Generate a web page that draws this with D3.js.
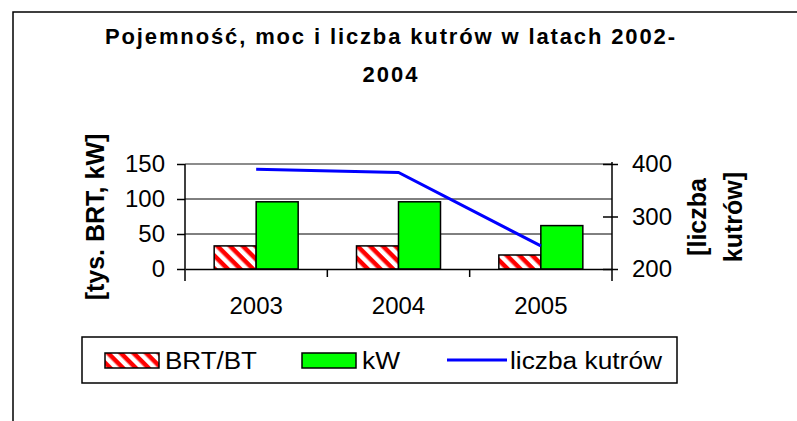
<!DOCTYPE html>
<html>
<head>
<meta charset="utf-8">
<script src="https://cdn.jsdelivr.net/npm/d3@7"></script>
<style>
  body { margin: 0; background: #fff; }
  svg { display: block; font-family: "Liberation Sans", Arial, sans-serif; }
</style>
</head>
<body>
<div id="plot"></div>
<script>
    const years = ["2003", "2004", "2005"];
    const brt = [33, 33, 20];
    const kw = [96, 96, 62];
    const boats = [390, 384, 244];
    const leftTicks = [0, 50, 100, 150];
    const rightTicks = [200, 300, 400];

    const svg = d3.select("div#plot")
      .append("svg")
        .attr("width", 797)
        .attr("height", 421);

    const defs = svg.append("defs");
    const hatch = defs.append("pattern")
      .attr("id", "hatch")
      .attr("patternUnits", "userSpaceOnUse")
      .attr("width", 9)
      .attr("height", 9)
      .attr("patternTransform", "rotate(45)");
    hatch.append("rect").attr("width", 9).attr("height", 9).attr("fill", "#fff");
    hatch.append("rect").attr("width", 9).attr("height", 4.5).attr("fill", "#ff0000");

    // chart area border (only top and left visible)
    svg.append("path")
      .attr("d", "M13,421V12H797")
      .attr("fill", "none")
      .attr("stroke", "#000")
      .attr("stroke-width", 1.5);

    const plotL = 185, plotR = 612, plotT = 164, plotB = 269;

    const xScale = d3.scaleBand()
      .domain(years)
      .range([plotL, plotR]);

    const inner = d3.scaleBand()
      .domain(["brt", "kw"])
      .range([0, 84]);

    const yScale = d3.scaleLinear()
      .domain([0, 150])
      .range([plotB, plotT]);

    const y2Scale = d3.scaleLinear()
      .domain([200, 400])
      .range([plotB, plotT]);

    // grid lines
    svg.selectAll(".grid")
      .data([50, 100])
      .enter()
      .append("line")
        .attr("x1", plotL)
        .attr("x2", plotR)
        .attr("y1", d => yScale(d))
        .attr("y2", d => yScale(d))
        .attr("stroke", "#000")
        .attr("stroke-width", 1);

    svg.append("line")
      .attr("x1", plotL).attr("x2", plotR)
      .attr("y1", plotT).attr("y2", plotT)
      .attr("stroke", "#8c8c8c")
      .attr("stroke-width", 2);

    // bars
    const barX = d => xScale(d) + xScale.bandwidth() / 2 - 42;

    svg.selectAll(".brt-bars")
      .data(brt)
      .enter()
      .append("rect")
        .attr("x", (d, i) => barX(years[i]) + inner("brt"))
        .attr("y", d => yScale(d))
        .attr("width", inner.bandwidth())
        .attr("height", d => plotB - yScale(d))
        .attr("fill", "url(#hatch)")
        .attr("stroke", "#000")
        .attr("stroke-width", 1.5);

    svg.selectAll(".kw-bars")
      .data(kw)
      .enter()
      .append("rect")
        .attr("x", (d, i) => barX(years[i]) + inner("kw"))
        .attr("y", d => yScale(d))
        .attr("width", inner.bandwidth())
        .attr("height", d => plotB - yScale(d))
        .attr("fill", "#00ff00")
        .attr("stroke", "#000")
        .attr("stroke-width", 1.5);

    // axes
    const xAxis = d3.axisBottom(xScale).tickSize(0).tickSizeOuter(0).tickPadding(28);
    const gx = svg.append("g")
      .attr("transform", `translate(0, ${plotB})`)
      .call(xAxis);
    gx.select(".domain").attr("stroke", "#000").attr("stroke-width", 1.5);
    gx.selectAll("text").style("font-size", "24px").attr("fill", "#000");

    svg.selectAll(".xtick")
      .data(years.slice(1))
      .enter()
      .append("line")
        .attr("x1", d => xScale(d))
        .attr("x2", d => xScale(d))
        .attr("y1", plotB)
        .attr("y2", plotB + 8)
        .attr("stroke", "#000")
        .attr("stroke-width", 1.5);

    const yAxis = d3.axisLeft(yScale).tickValues(leftTicks).tickSize(8).tickSizeOuter(0).tickPadding(12);
    const gy = svg.append("g")
      .attr("transform", `translate(${plotL}, 0)`)
      .call(yAxis);
    gy.select(".domain").attr("stroke", "#000").attr("stroke-width", 1.5).attr("d", `M0,${plotT}V${plotB + 12}`);
    gy.selectAll("line").attr("stroke-width", 1.5);
    gy.selectAll("text").style("font-size", "24px").attr("fill", "#000");

    const y2Axis = d3.axisRight(y2Scale).tickValues(rightTicks).tickSize(0).tickPadding(20);
    const gy2 = svg.append("g")
      .attr("transform", `translate(${plotR}, 0)`)
      .call(y2Axis);
    gy2.select(".domain").attr("stroke", "#000").attr("stroke-width", 1.5).attr("d", `M0,${plotT - 2}V${plotB + 12}`);
    gy2.selectAll(".tick").append("line")
      .attr("x1", -9).attr("x2", 6)
      .attr("stroke", "#000").attr("stroke-width", 1.5);
    gy2.selectAll("text").style("font-size", "24px").attr("fill", "#000");

    // line
    const line = d3.line()
      .x((d, i) => xScale(years[i]) + xScale.bandwidth() / 2)
      .y(d => y2Scale(d));

    svg.append("path")
      .datum(boats)
      .attr("d", line)
      .attr("fill", "none")
      .attr("stroke", "#0000ff")
      .attr("stroke-width", 3);

    // titles
    svg.append("text")
      .attr("x", 390)
      .attr("y", 44)
      .attr("text-anchor", "middle")
      .style("font-size", "22px")
      .style("font-weight", "bold")
      .attr("textLength", 570)
      .attr("lengthAdjust", "spacing")
      .text("Pojemność, moc i liczba kutrów w latach 2002-");

    svg.append("text")
      .attr("x", 390)
      .attr("y", 82)
      .attr("text-anchor", "middle")
      .style("font-size", "22px")
      .style("font-weight", "bold")
      .attr("textLength", 55)
      .attr("lengthAdjust", "spacing")
      .text("2004");

    svg.append("text")
      .attr("transform", "translate(104, 217) rotate(-90)")
      .attr("text-anchor", "middle")
      .style("font-size", "25px")
      .style("font-weight", "bold")
      .text("[tys. BRT, kW]");

    svg.append("text")
      .attr("transform", "translate(706, 217) rotate(-90)")
      .attr("text-anchor", "middle")
      .style("font-size", "25px")
      .style("font-weight", "bold")
      .text("[liczba");

    svg.append("text")
      .attr("transform", "translate(742, 217) rotate(-90)")
      .attr("text-anchor", "middle")
      .style("font-size", "25px")
      .style("font-weight", "bold")
      .text("kutrów]");

    // legend
    const key = svg.append("g");
    key.append("rect")
      .attr("x", 82).attr("y", 337)
      .attr("width", 595).attr("height", 46)
      .attr("fill", "#fff")
      .attr("stroke", "#000")
      .attr("stroke-width", 1.5);

    key.append("rect")
      .attr("x", 105).attr("y", 353)
      .attr("width", 54).attr("height", 15)
      .attr("fill", "url(#hatch)")
      .attr("stroke", "#000")
      .attr("stroke-width", 1.5);

    key.append("text")
      .attr("x", 165).attr("y", 369)
      .style("font-size", "23px")
      .attr("textLength", 92)
      .attr("lengthAdjust", "spacingAndGlyphs")
      .text("BRT/BT");

    key.append("rect")
      .attr("x", 302).attr("y", 353)
      .attr("width", 54).attr("height", 15)
      .attr("fill", "#00ff00")
      .attr("stroke", "#000")
      .attr("stroke-width", 1.5);

    key.append("text")
      .attr("x", 362).attr("y", 369)
      .style("font-size", "23px")
      .attr("textLength", 38)
      .attr("lengthAdjust", "spacingAndGlyphs")
      .text("kW");

    key.append("line")
      .attr("x1", 447).attr("x2", 507)
      .attr("y1", 360).attr("y2", 360)
      .attr("stroke", "#0000ff")
      .attr("stroke-width", 3);

    key.append("text")
      .attr("x", 510).attr("y", 369)
      .style("font-size", "23px")
      .attr("textLength", 152)
      .attr("lengthAdjust", "spacingAndGlyphs")
      .text("liczba kutrów");
</script>
</body>
</html>
